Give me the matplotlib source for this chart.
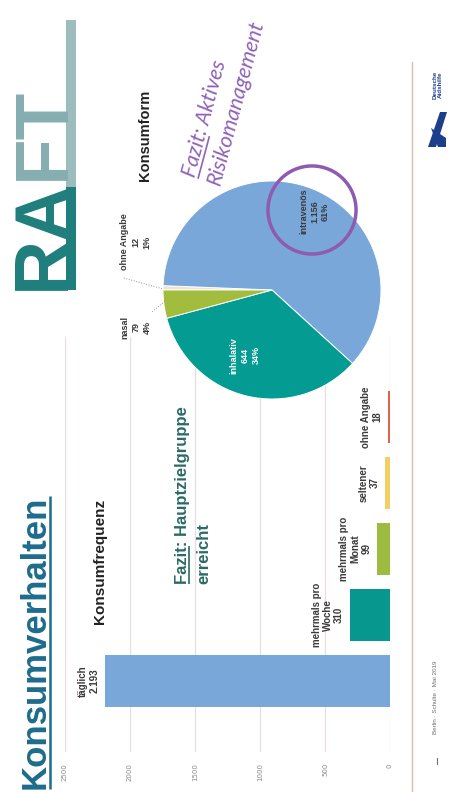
import matplotlib
matplotlib.use("Agg")
import matplotlib.pyplot as plt
from matplotlib.patches import Circle, Rectangle, Polygon
import numpy as np

# Konsumfrequenz (Balken)
freq_labels = ["täglich", "mehrmals pro\nWoche", "mehrmals pro\nMonat", "seltener", "ohne Angabe"]
freq_values = [2193, 310, 99, 37, 18]
freq_colors = ["#7aa7d9", "#07978f", "#9dbb3f", "#f3cf62", "#e0634a"]
freq_ticks = [0, 500, 1000, 1500, 2000, 2500]

# Konsumform (Torte), im Uhrzeigersinn ab links
form_labels = ["ohne Angabe", "intravenös", "inhalativ", "nasal"]
form_values = [12, 1156, 644, 79]
form_colors = ["#efe3cf", "#7aa7d9", "#049b93", "#a2bd3d"]

SANS = "Liberation Sans"

W, H = 450, 792
fig = plt.figure(figsize=(W / 100, H / 100), dpi=100)
renderer = fig.canvas.get_renderer()


def box(left, top, right, bottom):
    return [left / W, 1 - bottom / H, (right - left) / W, (bottom - top) / H]


def fmt(v):
    return f"{v:,}".replace(",", ".")


# --- Balkendiagramm ---
ax = fig.add_axes(box(65, 337, 390, 752))
pos = np.arange(len(freq_values))
ax.barh(pos, freq_values, height=0.79, color=freq_colors)
ax.set_xlim(freq_ticks[-1], 0)
ax.set_ylim(-1.08, 5.21)
ax.set_xticks(freq_ticks)
ax.set_xticklabels([str(t) for t in freq_ticks], rotation=90, fontsize=5, color="#8a8a8a")
ax.set_yticks([])
ax.grid(axis="x", color="#eadcdc", lw=0.9)
ax.set_axisbelow(True)
ax.tick_params(axis="x", length=0, pad=8)
for s in ax.spines.values():
    s.set_visible(False)
ax.patch.set_visible(False)
for i, (lab, v) in enumerate(zip(freq_labels, freq_values)):
    ax.annotate(f"{lab}\n{fmt(v)}", (v, i), xytext=(-4, 0), textcoords="offset points",
                rotation=90, rotation_mode="anchor", ha="center", va="bottom",
                multialignment="center", fontsize=7, color="#3a3a3a",
                family=SANS, fontweight="bold", linespacing=1.15)

# --- Tortendiagramm ---
pa = fig.add_axes(box(163, 181, 381, 399))
pa.pie(form_values, colors=form_colors, startangle=180, counterclock=False,
       radius=1, wedgeprops=dict(edgecolor="white", linewidth=0.7))
pa.set_xlim(-1, 1)
pa.set_ylim(-1, 1)
pa.set_aspect("equal")
pa.patch.set_visible(False)

total = sum(form_values)
pct = [round(v / total * 100) for v in form_values]
label_pos = [(-1.25, 0.44), (0.39, 0.72), (-0.25, -0.60), (-1.25, -0.34)]
label_col = ["#3a3a3a", "#3a3a3a", "white", "#3a3a3a"]
for lab, v, p, xy, c in zip(form_labels, form_values, pct, label_pos, label_col):
    pa.text(xy[0], xy[1], f"{lab}\n{fmt(v)}\n{p}%", rotation=90, ha="center", va="center",
            multialignment="center", fontsize=6.5, color=c, family=SANS,
            fontweight="bold", linespacing=1.3, clip_on=False)
# Hinweislinien zu den kleinen Segmenten
pa.plot([-1.36, -1.0], [0.11, 0.01], ls=":", lw=0.7, color="#999999", clip_on=False)
pa.plot([-1.10, -0.98], [-0.20, -0.10], ls=":", lw=0.7, color="#999999", clip_on=False)
pa.add_patch(Circle((0.367, 0.734), 0.404, fill=False, ec="#8e5bb0", lw=2.5, clip_on=False))

# --- Texte und Deko ---
ov = fig.add_axes([0, 0, 1, 1], zorder=5)
ov.set_xlim(0, W)
ov.set_ylim(H, 0)
ov.axis("off")


def write(x, y, s, rot=90, size=10, color="k", weight="normal", style="normal",
          family=SANS, ha="left", underline=None, ul_lw=1.2):
    ov.text(x, y, s, rotation=rot, rotation_mode="anchor", ha=ha, va="baseline",
            fontsize=size, color=color, fontweight=weight, fontstyle=style, family=family)
    if underline:
        probe = ov.text(0, 0, underline, fontsize=size, fontweight=weight,
                        fontstyle=style, family=family)
        w = probe.get_window_extent(renderer).width
        probe.remove()
        th = np.deg2rad(rot)
        d = np.array([np.cos(th), -np.sin(th)])
        n = np.array([np.sin(th), np.cos(th)])
        p0 = np.array([x, y]) + n * size * 0.2
        p1 = p0 + d * w
        ov.plot([p0[0], p1[0]], [p0[1], p1[1]], color=color, lw=ul_lw, solid_capstyle="butt")


write(45, 789, "Konsumverhalten", size=25, color="#1d6c8c", weight="bold",
      underline="Konsumverhalten", ul_lw=1.8)
write(104, 561, "Konsumfrequenz", size=11, color="#222222", weight="bold", ha="center")
write(149, 135, "Konsumform", size=10.5, color="#222222", weight="bold", ha="center")

teal_txt = "#2b6a66"
write(187, 584, "Fazit: Hauptzielgruppe", size=12, color=teal_txt, weight="bold",
      underline="Fazit")
write(208, 584, "erreicht", size=12, color=teal_txt, weight="bold")

purple = "#9062b8"
write(195, 178, "Fazit: Aktives", rot=75, size=15.5, color=purple, style="italic",
      family="Lato", underline="Fazit")
write(220, 186, "Risikomanagement", rot=75, size=15.5, color=purple, style="italic",
      family="Lato")

# Projektlogo
write(64, 290, "RA", size=55, color="#1f7f7c", weight="bold")
write(64, 180, "FT", size=55, color="#86aeb0", weight="bold")
ov.add_patch(Rectangle((66, 187), 10, 103, color="#1f7f7c", lw=0))
ov.add_patch(Rectangle((66, 20), 10, 167, color="#9dbcbe", lw=0))

# Fußzeile
ov.plot([412, 412], [62, 792], color="#dcbcae", lw=1)
write(437, 697, "Berlin · Schulte · Mai 2019", size=4.5, color="#6f6f6f", ha="center")
ov.plot([437, 437], [758, 764], color="#6f6f6f", lw=0.8)
ov.add_patch(Polygon([(428, 147), (436, 147), (447, 112), (440, 112)], color="#1b3f8b", lw=0))
ov.add_patch(Polygon([(431, 128), (446, 138), (446, 147), (438, 147)], color="#1b3f8b", lw=0))
ov.text(438, 85, "Deutsche\nAidshilfe", rotation=90, ha="center", va="center",
        fontsize=4.5, color="#1b3f8b", family=SANS, fontweight="bold", linespacing=1.1)

fig.savefig("out.png", dpi=100, facecolor="white")
